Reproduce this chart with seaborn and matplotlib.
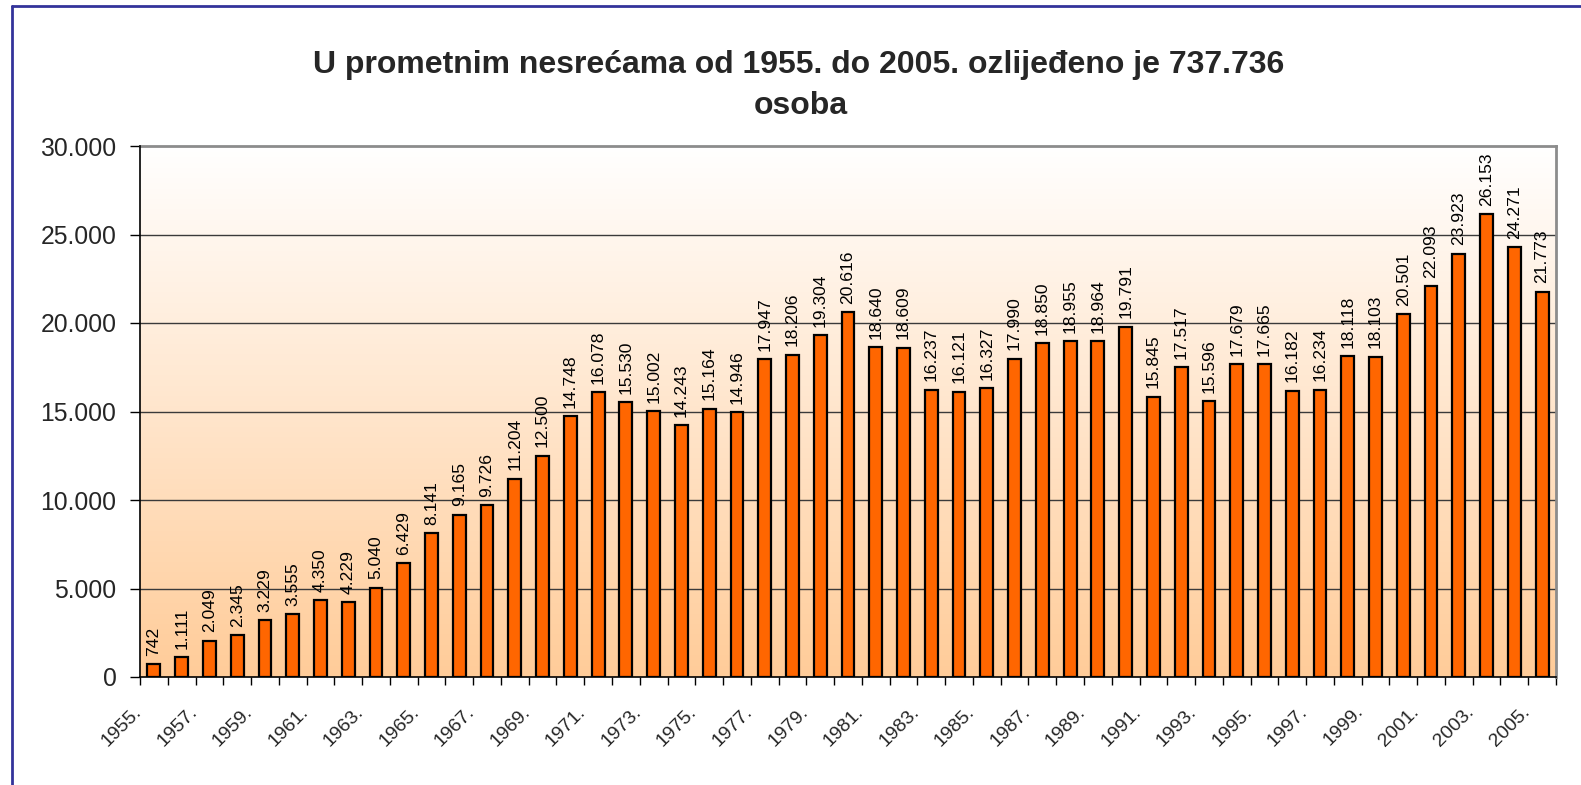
import numpy as np
import pandas as pd
import matplotlib
matplotlib.use("Agg")
import matplotlib.pyplot as plt
import seaborn as sns
import matplotlib.transforms as mtransforms
from matplotlib.lines import Line2D

years = [str(y) + "." for y in range(1955, 2006)]
injured = [742, 1111, 2049, 2345, 3229, 3555, 4350, 4229, 5040, 6429,
           8141, 9165, 9726, 11204, 12500, 14748, 16078, 15530, 15002, 14243,
           15164, 14946, 17947, 18206, 19304, 20616, 18640, 18609, 16237, 16121,
           16327, 17990, 18850, 18955, 18964, 19791, 15845, 17517, 15596, 17679,
           17665, 16182, 16234, 18118, 18103, 20501, 22093, 23923, 26153, 24271,
           21773]
y_ticks = [0, 5000, 10000, 15000, 20000, 25000, 30000]
title_lines = ["U prometnim nesrećama od 1955. do 2005. ozlijeđeno je 737.736", "osoba"]

def fmt(v):
    return f"{v:,}".replace(",", ".")

sns.set_theme(style="white")
plt.rcParams['font.family'] = ['Liberation Sans', 'DejaVu Sans']

W, H = 1581, 785
fig = plt.figure(figsize=(W / 100, H / 100), dpi=100)
ax = fig.add_axes([140 / W, 1 - 677 / H, (1556 - 140) / W, (677 - 146) / H])

df = pd.DataFrame({"year": years, "value": injured})

# gradient background
grad = np.linspace(0, 1, 256).reshape(-1, 1)
top = np.array([255, 255, 255]) / 255
bot = np.array([255, 204, 153]) / 255
img = top[None, None, :] * (1 - grad[:, :, None]) + bot[None, None, :] * grad[:, :, None]
ax.imshow(img, extent=[-0.5, len(years) - 0.5, 0, 30000], aspect='auto',
          zorder=0, origin='upper')

for t in y_ticks[1:-1]:
    ax.axhline(t, color='#3a3a3a', lw=1.0, zorder=1)

sns.barplot(data=df, x="year", y="value", color="#FF6600", edgecolor="black",
            linewidth=1.6, width=0.46, saturation=1, ax=ax, zorder=3)

ax.set_xlim(-0.5, len(years) - 0.5)
ax.set_ylim(0, 30000)
ax.set_xlabel("")
ax.set_ylabel("")

ax.bar_label(ax.containers[0], labels=[fmt(v) for v in injured], rotation=90,
             padding=6, fontsize=12.6, color='black')

ax.set_yticks(y_ticks)
ax.set_yticklabels([fmt(v) for v in y_ticks], fontsize=17.8)
ax.set_xticks(np.arange(-0.5, len(years), 1.0))
ax.set_xticklabels([])

# rotated category labels (every other year), Excel-style placement
lab_trans = ax.get_xaxis_transform() + mtransforms.ScaledTranslation(
    -21 / 100, -26 / 100, fig.dpi_scale_trans)
for i in range(0, len(years), 2):
    ax.text(i, 0, years[i], transform=lab_trans, rotation=45,
            rotation_mode='anchor', ha='right', va='top', fontsize=14,
            clip_on=False)

ax.tick_params(axis='x', which='major', length=6, width=1, color='black',
               direction='out', bottom=True)
ax.tick_params(axis='y', length=7, width=1, color='black', direction='out',
               left=True, pad=10)

for side in ['top', 'right']:
    ax.spines[side].set_color('#8c8c8c')
    ax.spines[side].set_linewidth(2)
for side in ['left', 'bottom']:
    ax.spines[side].set_color('black')
    ax.spines[side].set_linewidth(1.2)
    ax.spines[side].set_zorder(5)

fig.text(799 / W, 1 - 72.5 / H, title_lines[0], ha='center', va='baseline',
         fontsize=23, fontweight='bold')
fig.text(801 / W, 1 - 114 / H, title_lines[1], ha='center', va='baseline',
         fontsize=23, fontweight='bold')

# outer frame (left and top visible)
fig.add_artist(Line2D([11.5 / W, 11.5 / W], [0, 1 - 6 / H], transform=fig.transFigure,
                      color='#33339a', lw=2))
fig.add_artist(Line2D([11.5 / W, 1], [1 - 6 / H, 1 - 6 / H], transform=fig.transFigure,
                      color='#33339a', lw=2))

fig.savefig("out.png", dpi=100, facecolor='white')
